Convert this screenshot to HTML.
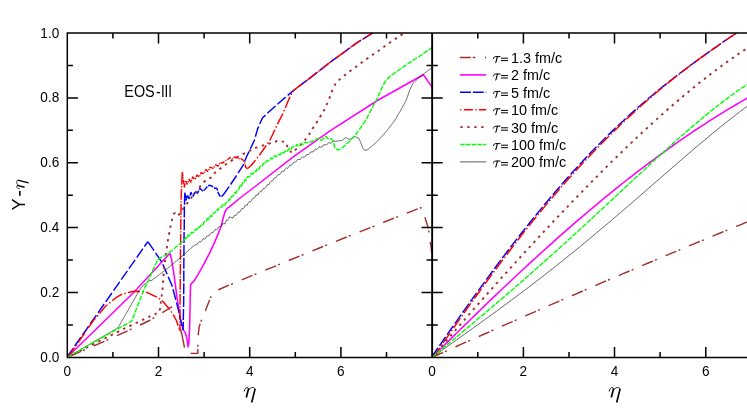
<!DOCTYPE html>
<html><head><meta charset="utf-8"><title>plot</title>
<style>
html,body{margin:0;padding:0;background:#fff;}
body{width:747px;height:416px;overflow:hidden;font-family:"Liberation Sans",sans-serif;}
svg{display:block;will-change:transform}
text{font-family:"Liberation Sans",sans-serif;fill:#000}
.it{font-family:"Liberation Serif",serif;font-style:italic}
</style></head><body>
<svg width="747" height="416" viewBox="0 0 747 416">
<rect width="747" height="416" fill="#fff"/>
<defs>
<clipPath id="cl"><rect x="67.3" y="33.1" width="364.8" height="324.3"/></clipPath>
<clipPath id="cr"><rect x="432.1" y="33.1" width="315" height="324.3"/></clipPath>
</defs>

<g fill="none" stroke-linejoin="round" clip-path="url(#cl)">
<path d="M70.4 356.0L81.0 351.4M83.1 350.5L85.0 349.7M93.7 345.9L104.4 341.3M106.5 340.3L108.3 339.5M117.0 335.7L127.6 330.8M129.7 329.8L131.5 329.0M140.1 325.0L149.5 320.5L150.5 319.9M152.5 318.7L154.2 317.6M162.3 312.6L172.2 306.5M180.3 329.0L181.6 333.2L184.5 347.6M190.6 353.4L197.8 353.4L197.8 349.0M197.8 346.7L197.8 346.2L197.9 344.7M198.2 335.2L198.2 334.6L199.2 326.7L200.2 323.8M200.9 321.6L201.1 320.9L201.6 319.7M205.3 310.9L205.4 310.8L209.0 301.4L209.5 300.1M210.4 298.0L211.2 296.2M218.4 290.0L219.0 289.5L228.9 285.2M231.1 284.3L232.9 283.5M241.7 279.8L252.4 275.4M254.6 274.5L256.4 273.8M265.2 270.2L276.0 265.8M278.1 264.9L280.0 264.1M288.8 260.5L299.5 256.1M301.7 255.3L303.5 254.5M312.4 250.9L323.1 246.5M325.2 245.6L327.1 244.9M335.9 241.3L346.7 237.0M348.8 236.1L350.7 235.4M359.6 231.9L370.4 227.6M372.5 226.8L374.4 226.0M383.2 222.5L394.0 218.2M396.2 217.4L398.0 216.7M406.9 213.1L417.7 208.9M419.8 208.0L420.9 207.6L421.2 208.4M424.9 217.2L428.3 228.2L428.3 228.3M428.6 230.5L428.9 232.5M430.2 242.0L431.2 247.4L431.7 253.5M431.9 255.8L432.1 257.8" stroke="#a52a2a" stroke-width="1.4"/>
<path d="M67.3 357.3L134.4 291.7L169.9 253.2L171.5 259.0L173.6 271.9L177.0 297.2L180.4 319.0L183.1 329.6L185.2 332.5L187.1 338.9L188.1 346.9L188.8 343.3L189.6 328.8L190.2 300.0L190.5 286.0L190.9 284.0L193.7 281.4L195.5 278.6L198.1 274.4L204.1 263.6L210.1 252.1L216.1 238.9L221.3 226.0L223.2 218.0L224.9 212.0L226.8 208.7L229.7 206.7L239.4 198.5L255.8 186.0L293.9 156.4L330.0 130.8L378.2 100.0L423.4 74.7L431.2 85.9L433.0 88.5" stroke="#ff00ff" stroke-width="1.55"/>
<path d="M67.0 357.1L73.2 348.3M74.7 346.0L80.9 337.2M82.5 335.0L88.7 326.1M90.2 323.9L96.4 315.1M98.0 312.9L104.2 304.0M105.7 301.8L111.9 293.0M113.5 290.7L119.7 281.9M121.2 279.7L127.4 270.8M128.9 268.6L135.1 259.8M136.7 257.6L142.9 248.7M144.4 246.5L147.8 241.7M148.0 241.8L154.1 250.7M155.6 252.9L161.6 261.9M162.9 264.3L167.1 274.2M168.2 276.7L171.9 285.4L172.3 286.7M173.0 289.3L175.8 299.7M176.5 302.3L179.1 312.8M179.7 315.5L181.8 326.0M182.4 328.7L182.4 328.8L183.0 330.0M184.7 193.7L184.5 204.7M184.4 206.5L184.4 207.0L184.3 217.5M184.3 219.3L184.2 230.3M184.1 232.1L184.0 243.1M184.0 244.9L183.9 255.0L183.9 255.9M183.9 257.7L183.8 268.7M183.8 270.5L183.8 281.5M183.8 283.3L183.7 294.3M183.7 296.1L183.7 300.0L183.6 307.1M183.5 308.9L183.3 319.9M183.3 321.7L183.1 330.0M184.9 192.5L185.8 197.9M185.9 199.0L186.1 200.0L187.2 195.6M187.5 195.4L189.1 198.6L189.6 196.7M190.0 195.7L190.9 192.5L192.1 194.3M192.7 195.2L193.3 196.1L194.9 191.9M195.4 191.6L197.5 193.1L198.8 190.5M199.3 189.5L199.9 188.3L202.9 191.2M203.7 190.6L205.4 188.9L207.3 186.5M208.1 185.8L210.2 185.3L212.6 186.5L213.1 186.9M214.0 187.6L215.0 188.3L216.8 188.3L217.6 190.6M217.9 191.7L218.6 193.7L220.3 196.6M221.3 196.3L222.8 195.5M222.8 195.5L229.1 186.7M230.6 184.5L236.6 175.5M238.1 173.2L243.3 164.8L243.6 164.0M244.6 161.5L246.3 157.3L249.0 151.6M250.2 149.2L254.5 140.0L254.7 139.4M255.4 136.8L257.6 128.9L258.7 126.5M259.7 124.0L262.4 118.0L265.5 115.1M267.4 113.3L269.0 111.8L275.5 106.0M277.5 104.2L282.0 100.2L285.6 97.1M287.7 95.4L294.1 90.0L296.0 88.5M298.2 86.9L306.8 80.4M308.9 78.8L317.5 72.2M319.6 70.5L320.0 70.2L328.1 63.9M330.3 62.2L332.0 60.9L339.0 55.9M341.2 54.3L344.1 52.2L349.9 47.9M352.1 46.3L356.1 43.3L361.0 40.2M363.3 38.8L372.4 33.1L372.4 33.1M374.7 31.6L383.9 25.9" stroke="#0000ff" stroke-width="1.45"/>
<path d="M67.8 357.6L74.6 347.7M75.9 345.8L76.8 344.6M78.1 342.7L84.9 332.8M86.2 330.9L87.0 329.7M88.3 327.8L93.5 320.3L95.5 318.2M97.1 316.5L98.0 315.3M99.5 313.6L105.2 306.5L107.5 304.7M109.2 303.2L110.4 302.3M112.2 300.8L116.7 297.2L121.7 294.4L122.2 294.3M124.4 293.7L125.8 293.3M128.0 292.6L131.1 291.8L137.2 291.2L139.9 291.5M142.2 291.8L143.6 292.0M145.9 292.3L146.8 292.4L156.9 297.1M158.8 298.3L160.0 299.2M161.9 300.6L162.5 301.0L169.8 309.5M171.1 311.4L171.9 312.7M173.1 314.6L173.3 314.9L176.4 320.5L178.1 325.5M178.9 327.7L179.3 328.8L179.4 329.1M182.2 172.0L182.2 172.6M182.1 174.0L181.7 184.8M181.6 186.2L181.6 187.6M181.5 189.0L181.1 199.8M181.1 201.2L181.1 202.6M181.1 204.0L180.9 214.8M180.9 216.2L180.9 217.6M180.9 219.0L180.7 229.8M180.7 231.2L180.7 232.6M180.7 234.0L180.6 244.8M180.5 246.2L180.5 247.6M180.5 249.0L180.5 250.0L180.4 259.8M180.4 261.2L180.4 262.6M180.4 264.0L180.3 274.8M180.3 276.2L180.3 277.6M180.3 279.0L180.2 289.8M180.2 291.2L180.2 292.6M180.1 294.0L180.1 300.0L180.1 304.8M180.1 306.2L180.1 307.6M180.0 309.0L180.0 319.8M180.0 321.2L180.0 322.6M179.9 324.0L179.9 331.0M182.2 172.0L182.9 176.5M183.0 177.5L183.1 178.0L183.2 178.7M183.3 179.8L183.9 184.3M184.0 185.4L184.2 186.6M184.3 187.7L184.3 187.7L185.0 183.3M185.2 182.2L185.4 181.0M185.8 181.0L187.3 184.1L187.7 183.1M188.0 182.1L188.5 181.0M188.9 179.9L189.1 179.3L190.9 182.3L191.0 182.0M191.3 181.0L191.7 179.8M192.1 178.8L192.7 176.9L194.5 178.7M195.2 179.1L195.7 178.0M196.1 177.0L196.9 175.1L198.9 176.6M199.5 176.4L200.0 175.3M200.4 174.3L201.1 172.7L203.6 173.9L203.6 173.9M204.1 172.9L204.7 171.9M205.3 170.9L206.0 169.6L207.8 171.4L208.0 171.0M208.6 170.1L209.2 169.0M209.7 168.1L210.2 167.2L213.2 168.4L213.4 168.2M214.0 167.3L214.6 166.3M215.2 165.3L215.6 164.8L218.0 166.0L218.6 165.0M219.3 164.1L219.9 163.1M220.6 162.5L222.8 163.0L224.4 161.4M225.2 160.6L225.2 160.6L226.3 160.1M227.3 159.7L230.0 157.5L230.8 158.1M231.7 158.8L232.0 159.0L232.7 158.5M233.6 157.9L234.8 157.0L237.4 158.4M238.5 158.4L239.7 158.4M240.7 158.4L243.0 160.0L243.9 161.5M244.5 162.4L244.5 162.4L244.8 163.6M245.1 164.6L245.7 167.2L247.0 168.5M247.3 168.8L251.2 165.5L255.5 160.1M257.0 158.3L257.9 157.2M259.3 155.3L266.2 145.5M267.5 143.6L268.3 142.4M269.7 140.5L270.0 140.0L274.9 129.7M275.9 127.6L276.5 126.3M277.5 124.2L282.9 113.5L282.9 113.5M283.8 111.4L284.4 110.0M285.3 107.9L288.7 99.6L290.0 96.8M291.0 94.8L291.7 93.4M293.0 91.5L294.1 90.0L302.2 83.9M304.0 82.5L305.2 81.6M307.0 80.2L307.1 80.2L316.5 72.9M318.3 71.5L319.5 70.6M321.3 69.2L330.8 61.8M332.7 60.4L333.9 59.5M335.8 58.2L344.1 52.2L345.5 51.2M347.3 49.8L348.5 48.9M350.4 47.5L356.1 43.3L360.2 40.7M362.2 39.5L363.5 38.7M365.4 37.5L372.4 33.1L375.6 31.1M377.5 29.9L378.8 29.1M380.7 27.9L385.0 25.2" stroke="#ff0000" stroke-width="1.45"/>
<path d="M67.3 357.3L69.4 356.2M73.5 354.2L75.6 353.1M79.7 351.0L81.9 350.0M85.9 347.9L88.1 346.8M92.1 344.8L94.3 343.7M98.3 341.7L100.5 340.6M104.5 338.5L106.7 337.4M110.7 335.4L112.9 334.3M116.9 332.3L119.1 331.2M123.1 329.1L124.4 328.5L125.3 328.1M129.4 326.1L131.6 325.1M135.7 323.2L137.9 322.1M142.0 320.2L144.2 319.2M148.3 317.2L150.4 316.2M154.6 314.3L156.7 313.3M159.8 310.5L160.1 308.1M160.6 303.6L161.0 301.3M161.6 296.7L161.9 294.4M162.5 289.9L162.7 287.5M163.0 282.9L163.2 280.5M163.5 276.0L163.7 273.6M164.1 269.1L164.1 268.6L164.3 266.7M164.9 262.2L165.2 259.8M165.7 255.3L166.0 253.2L166.0 252.9M166.7 248.4L167.1 246.0M167.7 241.5L168.0 239.7L168.1 239.1M168.9 234.7L169.4 232.3M170.2 227.8L170.7 225.5M171.7 221.1L172.3 218.7M173.5 214.3L173.6 213.8L175.2 213.2L175.3 213.3M178.3 215.3L179.8 213.4M182.5 209.8L183.9 207.8M186.6 204.1L188.0 202.2M190.7 198.5L192.2 196.7M195.1 193.1L195.1 193.1L196.5 191.2M199.2 187.6L200.5 185.9L200.7 185.7M203.7 182.3L204.2 181.7L205.5 180.6M209.2 178.2L211.4 177.5L211.5 177.4M214.2 173.8L215.0 172.7L215.8 172.0M219.4 169.2L220.4 168.4L221.3 167.7M224.9 165.0L225.2 164.8L226.9 163.7M230.7 161.2L232.8 159.9M236.6 157.4L236.7 157.3L238.7 156.3M242.8 154.3L244.9 153.2M249.0 151.2L251.2 150.1M255.2 148.1L256.0 147.7L257.5 147.3M261.8 145.9L264.1 145.2M268.5 143.9L270.8 143.2M275.1 141.9L275.2 141.9L277.3 140.9M281.7 141.4L284.0 141.9M286.7 144.9L287.5 147.1M290.0 150.9L291.5 152.7M294.9 150.3L296.8 148.7M300.0 145.6L301.7 143.9M304.7 140.4L306.1 138.5M308.8 134.8L309.8 133.4L310.1 132.8M312.4 128.9L313.4 127.3L313.7 126.9M316.2 123.1L317.0 121.9L317.5 121.1M319.8 117.2L320.6 115.9L321.1 115.1M323.4 111.2L324.2 109.9L324.6 109.1M326.4 105.0L327.2 103.3L327.4 102.8M329.2 98.6L329.9 97.0L330.1 96.4M331.7 92.1L332.3 90.4L332.6 89.9M334.5 85.7L335.2 84.3L335.7 83.7M338.8 80.3L339.8 79.2L340.5 78.7M344.0 75.8L345.2 74.9L345.9 74.3M349.5 71.5L350.6 70.7L351.4 70.1M355.2 67.5L356.4 66.6L357.1 66.1M360.7 63.3L362.0 62.3L362.6 61.9M366.3 59.2L367.7 58.2L368.3 57.8M372.0 55.2L373.5 54.2L374.0 53.9M377.8 51.3L378.9 50.6L379.7 50.0M383.4 47.2L384.7 46.2L385.3 45.8M389.0 43.2L390.4 42.2L391.0 41.8M394.8 39.3L396.8 37.9M400.6 35.4L402.6 34.1M406.3 31.5L408.3 30.2M412.1 27.6L414.1 26.3" stroke="#a52a2a" stroke-width="1.9"/>
<path d="M67.3 357.3L68.2 356.8L69.1 356.3L69.9 355.8L70.8 355.3L71.7 354.7L72.6 354.2L73.4 353.7L74.3 353.2L75.2 352.7L76.1 352.2L76.9 351.7L77.8 351.2L78.7 350.7L79.6 350.2L80.4 349.6L81.3 349.1L82.2 348.6L83.1 348.1L83.9 347.6L84.8 347.1L85.7 346.6L86.6 346.1L87.4 345.6L88.3 345.1L89.2 344.5L90.1 344.0L90.9 343.5L91.8 343.0L92.7 342.5L93.6 342.0L94.5 341.5L95.3 341.0L96.2 340.5L97.1 339.9L98.0 339.4L98.8 338.9L99.7 338.4L100.6 337.9L101.5 337.4L102.3 336.9L103.2 336.4L104.1 335.9L105.0 335.4L105.8 334.8L106.7 334.3L107.6 333.8L108.5 333.3L109.3 332.8L110.2 332.3L111.1 331.8L112.0 331.3L112.8 330.8L113.7 330.3L114.6 329.7L115.5 329.2L116.3 328.7L117.2 328.2L118.1 327.7L118.6 326.8L119.1 325.9L119.6 325.1L120.1 324.2L120.6 323.3L121.1 322.4L121.6 321.6L122.1 320.7L122.6 319.8L123.1 318.9L123.6 318.0L124.1 317.2L124.6 316.3L125.1 315.4L125.6 314.5L126.1 313.7L126.6 312.8L127.1 311.9L127.6 311.0L128.1 310.1L128.6 309.3L129.1 308.4L129.6 307.5L130.1 306.6L130.6 305.7L131.1 304.9L131.6 304.0L132.1 303.1L132.6 302.2L133.1 301.4L133.6 300.5L134.1 299.6L134.6 298.7L135.1 297.8L135.6 297.0L136.1 296.1L136.6 295.2L137.1 294.3L137.6 293.5L138.1 292.6L138.6 291.7L139.4 290.5L140.2 289.4L140.8 288.6L141.4 287.7L142.1 286.9L142.7 286.0L143.3 285.2L144.1 284.6L145.0 284.0L145.8 283.4L146.6 282.8L147.4 282.2L148.2 281.6L149.1 281.0L149.9 280.4L151.7 280.4L152.5 279.8L153.3 279.2L154.1 278.6L154.9 278.0L155.7 277.4L156.5 276.8L157.3 276.2L158.1 275.6L158.9 274.9L159.7 274.3L160.5 273.7L161.3 273.1L162.1 272.5L162.9 271.9L163.7 271.3L164.5 270.7L165.3 270.1L166.1 269.5L166.9 268.9L167.6 268.2L168.4 267.6L169.2 266.9L170.0 266.3L170.7 265.7L171.5 265.0L172.3 264.4L173.1 263.8L173.8 263.1L174.6 262.5L175.4 261.8L176.1 261.2L176.9 260.6L177.7 259.9L178.5 259.3L179.2 258.6L180.0 258.0L180.8 257.3L181.5 256.7L182.2 256.0L183.0 255.3L183.8 254.7L184.5 254.0L185.2 253.3L186.0 252.7L186.8 252.0L187.5 251.3L188.2 250.6L189.0 250.0L189.8 249.3L190.5 248.6L191.2 248.0L192.0 247.3L192.9 246.7L193.7 246.1L194.6 245.5L195.5 244.9L196.3 244.7L197.2 244.4L198.1 242.8L198.9 242.0L199.8 241.6L200.6 242.1L201.5 240.9L202.4 239.9L203.2 238.6L204.1 239.3L204.9 238.7L205.7 238.3L206.5 236.3L207.2 236.0L208.0 235.7L208.8 236.0L209.6 234.8L210.4 233.5L211.2 232.8L212.0 232.7L212.8 233.0L213.5 231.6L214.3 230.6L215.1 229.3L215.9 230.0L216.7 229.5L217.5 228.9L218.3 227.1L219.0 226.6L219.8 226.6L220.6 226.6L221.4 225.7L222.3 224.1L223.2 223.8L224.0 223.6L224.9 224.0L225.5 222.2L226.2 221.2L226.8 219.9L227.4 220.4L228.0 219.5L228.7 218.6L229.3 216.7L230.6 217.4L231.8 217.7L233.1 217.8L234.0 215.8L234.8 215.5L235.7 215.4L236.5 214.9L237.4 213.2L238.2 212.2L238.9 212.0L239.7 212.2L240.4 210.9L241.2 209.7L241.9 208.4L242.7 209.0L243.4 208.3L244.2 207.7L244.9 205.7L245.7 205.5L246.4 205.0L247.2 205.3L247.9 203.6L248.6 202.5L249.4 201.6L250.1 201.9L250.8 201.5L251.6 200.1L252.3 198.9L253.1 198.1L253.8 198.6L254.5 197.7L255.3 196.8L256.0 195.0L256.8 195.1L257.5 194.7L258.3 194.7L259.0 192.7L259.8 191.9L260.5 191.2L261.3 191.7L262.0 190.8L262.8 189.4L263.5 188.2L264.6 188.4L265.6 187.6L266.3 186.7L267.1 184.8L267.8 184.9L268.6 184.5L269.3 184.3L270.0 182.4L270.8 181.5L271.5 181.0L272.2 181.3L273.0 180.2L273.7 178.7L274.5 177.7L275.2 177.6L276.0 177.7L276.8 176.5L277.6 175.2L278.4 174.2L279.2 174.7L280.0 174.1L280.9 173.3L281.7 171.4L282.5 171.5L283.3 171.1L284.1 171.3L284.9 169.4L285.7 168.6L286.5 167.9L287.4 168.6L288.2 167.5L289.0 166.4L289.8 164.9L290.6 165.2L291.4 165.0L292.3 164.4L293.1 162.8L293.9 162.0L294.8 162.1L295.6 162.1L296.5 161.2L297.4 159.6L298.3 159.4L299.2 159.3L300.0 159.8L300.9 158.3L301.8 157.6L302.7 156.6L303.6 157.4L304.5 156.9L305.3 156.3L306.2 154.8L307.1 154.5L308.0 154.7L308.8 154.5L309.7 153.5L310.6 152.0L311.5 151.9L312.3 151.9L313.2 151.9L314.1 150.2L315.0 149.5L315.8 148.8L316.7 149.6L317.7 148.6L318.6 147.9L319.6 146.5L320.5 147.2L321.5 146.9L322.5 146.7L323.4 144.9L324.4 144.9L325.3 144.7L326.3 145.2L327.3 143.9L328.2 143.1L329.2 142.6L330.1 143.3L331.1 143.1L332.1 142.1L333.0 141.1L334.0 140.9L335.1 141.3L336.2 141.1L337.3 141.0L338.5 140.9L339.6 140.8L340.7 140.6L341.8 140.5L342.8 139.8L343.7 139.1L344.7 138.3L345.6 137.6L346.6 138.1L347.6 138.6L348.5 139.0L349.5 139.5L350.4 139.0L351.4 138.5L352.4 138.1L353.3 137.6L354.2 137.1L355.2 136.6L356.2 137.1L357.1 137.6L358.1 138.0L359.1 138.5L359.5 139.5L359.9 140.4L360.2 141.4L360.6 142.4L361.0 143.3L361.4 144.3L361.8 145.3L362.1 146.3L362.5 147.2L362.9 148.2L363.6 149.0L364.2 149.7L364.9 150.5L365.9 150.2L366.8 149.8L367.8 149.5L368.6 148.8L369.3 148.2L370.1 147.5L370.9 146.9L371.7 146.2L372.4 145.6L373.2 144.9L374.0 144.3L374.8 143.6L375.5 143.0L376.3 142.3L377.0 141.6L377.7 140.8L378.4 140.1L379.1 139.3L379.8 138.6L380.5 137.8L381.2 137.1L381.9 136.3L382.6 135.6L383.3 134.8L384.0 134.1L384.7 133.3L385.3 132.5L386.0 131.7L386.6 130.9L387.3 130.1L387.9 129.3L388.5 128.5L389.2 127.7L389.8 126.8L390.5 126.0L391.1 125.2L391.7 124.4L392.4 123.6L393.0 122.8L393.7 122.0L394.3 121.2L394.8 120.3L395.3 119.4L395.9 118.6L396.4 117.7L396.9 116.8L397.4 115.9L397.9 115.0L398.4 114.1L399.0 113.3L399.5 112.4L400.0 111.5L400.5 110.6L401.0 109.7L401.5 108.8L402.0 107.8L402.5 106.9L403.1 106.0L403.6 105.1L404.1 104.2L404.6 103.2L405.1 102.3L405.6 101.4L406.1 100.5L406.5 99.5L406.8 98.5L407.2 97.5L407.5 96.5L407.9 95.5L408.2 94.4L408.6 93.4L408.9 92.4L409.3 91.4L409.6 90.4L410.0 89.4L410.5 88.4L411.0 87.4L411.5 86.4L412.0 85.4L412.5 84.4L413.0 83.4L413.8 82.6L414.6 81.8L415.4 81.0L416.2 80.2L417.0 79.4L417.8 78.6L418.7 77.9L419.5 77.2L420.4 76.5L421.3 75.8L422.2 75.1L423.0 74.4L423.9 73.7L424.7 73.1L425.5 72.5L426.3 71.9L427.1 71.3L427.9 70.7L428.7 70.1L429.5 69.5L430.3 68.9L431.1 68.3L432.1 67.7L433.0 67.0" stroke="#000000" stroke-width="0.6"/>
<path d="M67.3 357.3L68.2 356.8L69.0 356.3L69.9 355.8L70.8 355.3L71.7 354.8M72.9 354.2L73.4 353.9L74.3 353.4L75.1 352.9L76.0 352.4L76.9 351.9L77.2 351.7M78.4 351.0L78.6 350.9L79.5 350.4L80.4 349.9L81.2 349.4L82.1 348.9L82.8 348.6M84.0 347.9L84.7 347.5L85.6 347.0L86.5 346.5L87.3 346.0L88.2 345.5L88.4 345.4M89.6 344.7L90.0 344.5L90.8 344.0L91.7 343.5L92.6 343.0L93.4 342.5L93.9 342.3M95.2 341.6L95.2 341.6L96.1 341.1L96.9 340.6L97.8 340.1L98.7 339.6L99.5 339.1M100.7 338.4L101.3 338.1L102.2 337.6L103.0 337.1L103.9 336.6L104.8 336.1L105.1 336.0M106.3 335.3L106.5 335.2L107.4 334.7L108.3 334.2L109.1 333.7L110.0 333.2L110.7 332.8M111.9 332.1L112.6 331.7L113.5 331.2L114.4 330.7L115.2 330.2L116.1 329.8L116.2 329.7M117.5 329.0L117.9 328.8L118.7 328.3L119.6 327.8L120.5 327.3L121.3 326.8L121.8 326.5M123.0 325.8L123.1 325.8L124.0 325.3L124.8 324.8L125.7 324.3L126.6 323.9L127.4 323.4M128.6 322.7L129.2 322.4L130.1 321.9L130.9 321.4L131.8 320.9L132.2 319.9L132.3 319.7M132.8 318.3L132.9 318.0L133.3 317.1L133.6 316.1L134.0 315.2L134.4 314.2L134.6 313.7M135.1 312.4L135.1 312.3L135.5 311.4L135.8 310.4L136.2 309.4L136.6 308.5L136.9 307.7M137.4 306.4L137.7 305.6L138.0 304.7L138.4 303.7L138.8 302.8L139.1 301.8L139.2 301.7M139.7 300.4L139.9 299.9L140.2 298.9L140.6 298.0L141.0 297.0L141.3 296.1L141.5 295.8M142.0 294.4L142.1 294.2L142.4 293.2L142.8 292.3L143.2 291.3L143.5 290.4L143.8 289.8M144.3 288.5L144.4 288.5L144.8 287.5L145.3 286.6L145.8 285.7L146.2 284.7L146.6 284.0M147.2 282.8L147.6 281.9L148.1 281.0L148.5 280.0L149.0 279.0L149.3 278.3M149.9 277.0L150.3 276.0L150.7 275.1L151.2 274.1L151.6 273.1L151.9 272.4M152.5 271.1L152.5 271.1L152.9 270.1L153.3 269.2L153.8 268.2L154.2 267.3L154.6 266.6M155.2 265.3L155.5 264.5L156.0 263.6L156.4 262.7L156.8 261.8L157.3 260.8L157.3 260.8M158.0 259.7L158.6 259.2L159.5 258.6L160.4 257.9L161.3 257.3L162.2 256.9M163.5 256.3L164.2 256.0L165.1 255.5L166.1 255.1L167.0 254.3L167.7 253.8M168.8 252.9L168.9 252.8L169.8 252.0L170.6 251.4L171.4 250.7L172.2 250.1L172.6 249.7M173.7 248.8L174.5 248.2L175.3 247.5L176.1 246.9L176.9 246.3L177.6 245.6M178.7 244.8L179.2 244.3L180.0 243.7L180.8 243.0L181.5 242.3L182.2 241.7L182.5 241.5M183.5 240.5L183.8 240.3L184.5 239.6L185.2 238.9L186.0 237.7L186.7 238.6M187.2 237.6L187.5 236.9L188.2 235.7L189.0 234.8L189.8 235.8L190.0 235.4M190.7 234.2L191.2 232.7L192.0 232.4L192.8 232.5L193.6 232.5L193.9 231.6M194.3 230.2L194.4 229.9L195.2 229.8L196.0 230.0L196.8 229.6L197.7 227.8L197.7 227.7M198.5 226.7L199.3 227.8L200.1 226.7L200.9 225.5L201.3 224.7M202.1 224.4L202.5 224.8L203.3 224.4L204.0 221.8L204.8 221.7L204.9 221.7M206.2 221.3L206.4 221.2L207.1 219.1L207.9 218.2L208.7 219.4L208.7 219.2M209.4 218.0L209.4 217.8L210.2 216.5L211.0 215.4L211.8 216.2L212.4 215.5M212.9 214.2L213.3 213.0L214.1 213.1L214.8 212.9L215.6 212.1L215.9 211.1M216.5 209.9L217.1 209.5L217.8 210.5L218.6 208.3L219.0 207.7M219.9 206.9L220.1 206.9L221.1 207.2L222.1 206.5L223.0 204.4L223.3 204.7M224.3 205.5L224.8 205.3L225.6 203.3L226.4 202.4L227.2 202.2L227.4 202.2M228.3 201.4L228.8 200.1L229.5 198.7L230.2 199.8L230.5 199.2M231.1 198.0L231.7 196.3L232.4 196.2L233.2 195.9L233.9 195.0L234.0 194.5M234.5 193.1L234.6 192.7L235.3 192.7L236.0 193.2L236.7 190.8L236.9 190.4M238.0 189.5L238.0 189.5L238.7 189.6L239.4 187.9L240.1 185.8L240.3 186.0M241.0 186.5L241.4 185.9L242.0 184.6L242.6 182.8L243.2 183.1L243.5 183.1M244.1 182.2L244.5 181.1L245.1 179.9L245.7 179.3L246.3 180.2L246.5 179.6M246.8 178.2L246.9 178.0L247.7 176.7L248.5 176.6L249.3 176.8L250.1 175.9L250.2 175.6M250.7 174.3L250.9 173.5L251.8 174.3L252.6 174.0L253.4 173.0L253.8 172.1M254.6 171.1L255.0 171.0L255.8 171.9L256.5 170.0L257.3 169.0L257.3 168.9M258.2 168.3L258.8 169.2L259.5 167.7L260.3 166.2L260.7 165.8M261.8 166.0L262.6 165.7L263.3 163.4L264.1 163.1L264.8 162.9L265.0 163.0M265.8 162.8L266.5 161.1L267.3 160.5L268.2 160.7L269.1 160.9L269.3 160.7M270.0 159.5L270.8 157.9L271.7 158.9L272.6 158.5L273.3 157.9M273.9 156.7L274.3 155.8L275.2 156.5L276.2 156.9L277.1 155.3M278.1 154.4L279.1 154.2L280.0 155.1L281.0 153.3L281.4 152.8M282.3 152.3L283.0 153.1L283.9 152.6L284.9 151.6L285.6 150.3M286.6 150.8L286.7 151.0L287.6 151.1L288.5 149.2L289.4 148.6L290.1 148.5M291.1 149.3L291.2 149.4L292.1 147.3L293.0 146.5L293.9 146.6L294.3 146.8M295.5 146.6L295.9 146.2L296.9 144.4L298.0 145.8L298.6 145.7M299.6 144.9L300.0 144.5L301.0 143.6L302.0 143.9L303.0 144.8L303.3 144.2M303.9 143.0L304.1 142.6L305.1 142.2L306.1 142.9L307.1 142.8L308.1 142.0M309.3 142.0L310.0 142.3L311.0 141.8L311.9 141.3L312.9 140.9L313.8 140.4M315.1 139.8L315.9 139.4L316.9 139.0L317.9 138.6L319.0 138.1L319.5 138.6M320.5 139.6L320.6 139.7L321.4 140.5L322.1 139.8L322.8 139.1L323.5 138.4L324.1 137.9M325.1 136.9L325.7 136.3L326.5 137.1L327.3 137.9L328.1 138.7L328.8 138.7M330.2 138.7L330.5 138.7L331.7 138.7L332.1 139.8L332.6 140.8L333.1 141.8L333.1 142.0M333.6 143.3L333.9 144.0L334.2 145.1L334.6 146.1L334.9 147.2L335.2 148.0M336.2 148.9L336.3 148.9L337.3 149.5L338.3 150.1L339.4 149.5L340.4 148.9L340.5 148.8M341.8 148.1L342.5 147.7L343.3 147.0L344.1 146.2L344.9 145.5L345.6 144.9M346.6 144.0L347.4 143.3L348.2 142.6L349.0 141.8L349.8 141.1L350.3 140.6M351.2 139.5L351.3 139.4L352.1 138.6L352.8 137.8L353.6 137.0L354.3 136.2L354.6 135.8M355.5 134.8L355.8 134.5L356.4 133.7L357.0 132.8L357.6 131.9L358.2 131.1L358.4 130.8M359.3 129.6L359.4 129.4L360.0 128.6L360.6 127.7L361.2 126.8L361.8 126.0L362.1 125.5M362.9 124.4L363.0 124.3L363.6 123.4L364.2 122.6L364.8 121.7L365.4 120.9L365.8 120.3M366.5 119.1L366.9 118.1L367.4 117.2L367.9 116.2L368.4 115.3L368.7 114.6M369.3 113.3L369.8 112.4L370.3 111.5L370.7 110.5L371.2 109.6L371.6 108.9M372.3 107.6L372.7 106.8L373.2 105.8L373.7 104.9L374.2 104.0L374.6 103.2M375.3 102.0L375.8 101.2L376.3 100.2L376.8 99.3L377.3 98.3L377.7 97.6M378.2 96.3L378.6 95.4L379.0 94.4L379.5 93.4L379.9 92.4L380.1 91.7M380.7 90.4L380.7 90.4L381.1 89.4L381.6 88.4L382.1 87.5L382.5 86.5L382.8 85.9M383.5 84.7L383.5 84.6L384.1 83.6L384.7 82.6L385.3 81.6L385.9 80.6L386.1 80.4M387.1 79.4L387.3 79.2L388.0 78.4L388.7 77.7L389.4 77.0L390.1 76.3L390.6 75.9M391.8 75.1L391.8 75.0L392.7 74.4L393.5 73.8L394.4 73.2L395.2 72.5L395.8 72.1M396.9 71.3L397.0 71.3L397.8 70.7L398.7 70.1L399.6 69.5L400.4 68.9L401.0 68.5M402.2 67.7L403.0 67.1L403.9 66.5L404.7 65.9L405.6 65.3L406.3 64.8M407.5 64.0L408.2 63.5L409.1 62.9L409.9 62.4L410.8 61.8L411.6 61.3L411.6 61.3M412.8 60.5L413.3 60.2L414.2 59.6L415.1 59.0L415.9 58.5L416.8 57.9L417.0 57.8M418.2 57.0L418.5 56.8L419.3 56.3L420.2 55.7L421.0 55.1L421.9 54.5L422.3 54.2M423.5 53.4L423.6 53.4L424.4 52.8L425.2 52.2L426.1 51.7L426.9 51.1L427.6 50.6M428.8 49.8L429.4 49.4L430.3 48.8L431.1 48.2L432.1 47.5L432.9 47.0" stroke="#00ff00" stroke-width="1.4"/>
</g>
<g fill="none" stroke-linejoin="round" clip-path="url(#cr)">
<path d="M432.3 357.3L436.3 355.5L440.3 353.7L442.9 352.5M445.0 351.6L446.8 350.8M455.5 346.9L456.3 346.5L460.3 344.7L464.3 342.9L466.1 342.1M468.2 341.2L468.3 341.2L470.0 340.4M478.8 336.5L480.3 335.8L484.3 334.0L488.3 332.3L489.4 331.8M491.5 330.9L492.3 330.5L493.3 330.0M502.0 326.2L504.3 325.2L508.3 323.4L512.3 321.7L512.6 321.5M514.7 320.6L516.3 319.9L516.6 319.8M525.3 315.9L528.3 314.6L532.3 312.9L535.9 311.3M538.0 310.4L539.9 309.6M548.6 305.7L552.3 304.2L556.3 302.4L559.3 301.1M561.4 300.2L563.2 299.4M572.0 295.6L572.3 295.5L576.3 293.8L580.3 292.0L582.6 291.0M584.7 290.1L586.6 289.3M595.4 285.6L596.3 285.1L600.3 283.4L604.3 281.7L606.0 281.0M608.1 280.1L608.3 280.0L610.0 279.3M618.8 275.6L620.3 274.9L624.3 273.2L628.3 271.5L629.4 271.0M631.6 270.1L632.3 269.8L633.4 269.3M642.2 265.6L644.3 264.7L648.3 263.0L652.3 261.3L652.9 261.1M655.0 260.2L656.3 259.7L656.8 259.4M665.6 255.7L668.3 254.6L672.3 252.9L676.3 251.3L676.3 251.3M678.5 250.4L680.3 249.6L680.3 249.6M689.1 245.9L692.3 244.6L696.3 242.9L699.8 241.5M702.0 240.6L703.8 239.8M712.6 236.2L716.3 234.7L720.3 233.0L723.4 231.7M725.5 230.9L727.3 230.1M736.2 226.5L736.3 226.4L740.3 224.8L744.3 223.2L746.9 222.1M749.0 221.2L750.9 220.5" stroke="#a52a2a" stroke-width="1.4"/>
<path d="M432.3 357.3L436.3 353.3L440.3 349.3L444.3 345.3L448.3 341.4L452.3 337.4L456.3 333.5L460.3 329.5L464.3 325.6L468.3 321.7L472.3 317.8L476.3 313.9L480.3 310.0L484.3 306.1L488.3 302.3L492.3 298.4L496.3 294.6L500.3 290.8L504.3 287.0L508.3 283.2L512.3 279.5L516.3 275.7L520.3 272.0L524.3 268.3L528.3 264.6L532.3 260.9L536.3 257.2L540.3 253.6L544.3 250.0L548.3 246.4L552.3 242.8L556.3 239.2L560.3 235.7L564.3 232.2L568.3 228.7L572.3 225.2L576.3 221.7L580.3 218.3L584.3 214.9L588.3 211.5L592.3 208.1L596.3 204.8L600.3 201.4L604.3 198.2L608.3 194.9L612.3 191.6L616.3 188.4L620.3 185.2L624.3 182.0L628.3 178.9L632.3 175.8L636.3 172.7L640.3 169.6L644.3 166.6L648.3 163.5L652.3 160.6L656.3 157.6L660.3 154.7L664.3 151.8L668.3 148.9L672.3 146.0L676.3 143.2L680.3 140.4L684.3 137.7L688.3 134.9L692.3 132.2L696.3 129.5L700.3 126.9L704.3 124.3L708.3 121.7L712.3 119.1L716.3 116.6L720.3 114.1L724.3 111.7L728.3 109.2L732.3 106.8L736.3 104.5L740.3 102.1L744.3 99.8L748.3 97.5L752.3 95.3" stroke="#ff00ff" stroke-width="1.55"/>
<path d="M431.8 356.9L435.8 351.0L437.9 348.0M439.4 345.7L439.8 345.3L443.8 339.5L445.6 336.9M447.1 334.6L447.8 333.7L451.8 328.0L453.3 325.8M454.8 323.6L455.8 322.3L459.8 316.6L461.1 314.7M462.6 312.5L463.8 310.9L467.8 305.3L468.9 303.7M470.4 301.5L471.8 299.7L475.8 294.1L476.7 292.8M478.3 290.6L479.8 288.6L483.8 283.1L484.7 281.8M486.3 279.7L487.8 277.6L491.8 272.2L492.7 271.0M494.3 268.8L495.8 266.8L499.8 261.4L500.7 260.1M502.3 258.0L503.8 256.1L507.8 250.8L508.9 249.4M510.5 247.2L511.7 245.6L515.8 240.4L517.1 238.7M518.8 236.6L519.8 235.3L523.8 230.2L525.5 228.1M527.1 225.9L527.8 225.2L531.8 220.2L533.9 217.5M535.6 215.4L535.8 215.2L539.8 210.4L542.5 207.1M544.2 205.0L547.8 200.7L551.1 196.7M552.9 194.7L555.8 191.3L559.8 186.7L559.9 186.5M561.7 184.5L563.8 182.1L567.8 177.6L568.8 176.4M570.6 174.4L571.8 173.1L575.8 168.7L577.9 166.4M579.7 164.4L579.8 164.4L583.8 160.1L587.1 156.5M589.0 154.5L591.8 151.6L595.8 147.5L596.5 146.8M598.4 144.8L599.8 143.4L603.8 139.4L606.0 137.2M607.9 135.3L611.8 131.6L615.7 127.8M617.7 126.0L619.9 123.9L623.9 120.2L625.6 118.6M627.6 116.8L627.9 116.5L631.9 112.9L635.6 109.6M637.6 107.8L640.0 105.8L644.0 102.3L645.8 100.7M647.9 99.0L648.0 98.8L652.1 95.5L656.1 92.1L656.2 92.1M658.2 90.3L660.1 88.8L664.1 85.6L666.7 83.6M668.8 81.9L672.2 79.2L676.2 76.1L677.3 75.3M679.4 73.6L680.2 73.0L684.2 70.0L688.1 67.1M690.2 65.5L692.3 64.0L696.3 61.1L699.0 59.1M701.1 57.6L704.3 55.3L708.3 52.4L709.9 51.3M712.1 49.7L712.3 49.6L716.3 46.8L720.3 44.0L721.0 43.5M723.2 42.0L724.3 41.2L728.3 38.5L732.1 35.9M734.4 34.4L736.3 33.1L740.3 30.4L743.3 28.4M745.6 26.9L748.3 25.0L752.3 22.4" stroke="#0000ff" stroke-width="1.45"/>
<path d="M432.9 357.8L436.9 351.9L439.7 347.9M441.0 346.0L441.8 344.7M443.1 342.9L444.9 340.4L448.9 334.6L450.0 333.0M451.3 331.1L452.2 329.9M453.5 328.0L456.9 323.2L460.4 318.2M461.7 316.3L462.6 315.1M463.9 313.2L464.9 311.8L468.9 306.2L470.8 303.4M472.2 301.5L472.9 300.6L473.0 300.3M474.4 298.5L476.9 295.0L480.9 289.5L481.4 288.7M482.8 286.9L483.6 285.6M485.0 283.8L488.9 278.5L492.1 274.1M493.5 272.3L494.3 271.1M495.7 269.2L496.9 267.7L500.9 262.3L502.9 259.6M504.3 257.8L504.9 257.0L505.2 256.6M506.6 254.7L508.9 251.7L512.8 246.5L513.9 245.2M515.3 243.4L516.2 242.2M517.6 240.4L520.8 236.2L524.8 231.1L525.0 230.9M526.4 229.1L527.4 227.9M528.8 226.1L528.8 226.1L532.8 221.1L536.3 216.8M537.8 215.0L538.7 213.9M540.2 212.1L540.8 211.3L544.8 206.4L547.8 202.8M549.3 201.1L550.3 199.9M551.8 198.2L552.8 196.9L556.8 192.2L559.6 189.1M561.1 187.3L562.1 186.2M563.6 184.5L564.8 183.0L568.8 178.5L571.5 175.5M573.1 173.8L574.1 172.7M575.6 171.0L576.8 169.6L580.8 165.3L583.8 162.1M585.3 160.4L586.4 159.4M587.9 157.7L588.8 156.7L592.8 152.5L596.2 149.0M597.8 147.4L598.9 146.3M600.5 144.7L600.8 144.3L604.8 140.3L608.8 136.3L608.9 136.1M610.6 134.5L611.7 133.5M613.3 131.8L616.8 128.5L620.7 124.6L621.9 123.5M623.6 121.9L624.7 120.9M626.4 119.3L628.7 117.1L632.7 113.5L635.2 111.2M636.9 109.6L638.0 108.6M639.7 107.1L640.6 106.3L644.6 102.8L648.6 99.3L648.7 99.2M650.5 97.7L651.6 96.7M653.3 95.2L656.5 92.5L660.5 89.2L662.5 87.5M664.3 86.0L664.5 85.9L665.5 85.1M667.2 83.6L668.5 82.6L672.4 79.4L676.4 76.3L676.6 76.1M678.4 74.7L679.6 73.8M681.4 72.4L684.4 70.1L688.3 67.0L691.0 65.1M692.8 63.7L694.0 62.8M695.8 61.4L696.3 61.1L700.3 58.2L704.3 55.3L705.6 54.4M707.4 53.0L708.3 52.4L708.6 52.2M710.5 50.8L712.3 49.6L716.3 46.8L720.3 44.0L720.4 44.0M722.3 42.6L723.5 41.8M725.4 40.5L728.3 38.5L732.3 35.8L735.3 33.7M737.2 32.5L738.5 31.6M740.4 30.3L744.3 27.7L748.3 25.0L750.3 23.7M752.3 22.4L752.3 22.4" stroke="#ff0000" stroke-width="1.45"/>
<path d="M432.3 357.3L433.9 355.5M436.8 352.0L438.3 350.2M441.3 346.7L442.8 344.9M445.8 341.4L447.4 339.6M450.3 336.1L451.9 334.3M454.9 330.9L456.3 329.2L456.4 329.1M459.4 325.6L460.3 324.6L461.0 323.8M464.0 320.4L464.3 320.0L465.5 318.6M468.5 315.1L470.1 313.3M473.1 309.9L474.7 308.1M477.7 304.7L479.3 302.9M482.3 299.5L483.9 297.7M486.9 294.3L488.3 292.7L488.5 292.5M491.5 289.1L492.3 288.2L493.1 287.3M496.2 283.9L496.3 283.7L497.8 282.1M500.8 278.7L502.4 276.9M505.4 273.5L507.1 271.8M510.1 268.4L511.7 266.6M514.8 263.2L516.3 261.6L516.4 261.5M519.5 258.1L520.3 257.2L521.1 256.3M524.2 253.0L524.3 252.8L525.8 251.2M528.9 247.9L530.5 246.1M533.6 242.8L535.2 241.0M538.3 237.7L539.9 235.9M543.0 232.6L544.3 231.2L544.7 230.8M547.8 227.5L548.3 227.0L549.4 225.8M552.5 222.4L554.2 220.7M557.3 217.4L559.0 215.7M562.1 212.4L563.8 210.6M566.9 207.3L568.3 205.9L568.6 205.6M571.7 202.3L572.3 201.7L573.4 200.6M576.5 197.3L578.2 195.6M581.4 192.3L583.1 190.6M586.2 187.4L587.9 185.6M591.1 182.4L592.3 181.2L592.8 180.7M596.0 177.5L596.3 177.2L597.7 175.8M600.9 172.5L602.6 170.8M605.8 167.6L607.5 165.9M610.8 162.7L612.3 161.2L612.5 161.1M615.7 157.9L616.3 157.3L617.4 156.2M620.7 153.0L622.4 151.4M625.7 148.2L627.4 146.5M630.7 143.4L632.3 141.9L632.5 141.7M635.8 138.6L636.3 138.1L637.5 137.0M640.8 133.8L642.6 132.2M645.9 129.1L647.7 127.5M651.0 124.4L652.3 123.3L652.8 122.8M656.2 119.7L656.3 119.6L658.0 118.1M661.4 115.1L663.1 113.5M666.6 110.5L668.3 108.9L668.4 108.9M671.8 105.9L672.3 105.5L673.6 104.3M677.0 101.4L678.9 99.8M682.3 96.9L684.2 95.3M687.7 92.4L688.3 91.9L689.5 90.9M693.0 88.0L694.9 86.5M698.4 83.6L700.3 82.1L700.3 82.1M703.9 79.3L704.3 79.0L705.8 77.8M709.4 75.0L711.3 73.6M714.9 70.8L716.3 69.8L716.8 69.4M720.5 66.7L722.4 65.3M726.1 62.6L728.1 61.2M731.8 58.6L732.3 58.2L733.8 57.2M737.5 54.6L739.5 53.3M743.3 50.8L744.3 50.1L745.3 49.5M749.1 47.0L751.2 45.7" stroke="#a52a2a" stroke-width="1.9"/>
<path d="M432.3 357.3L436.3 354.4L440.3 351.5L444.3 348.7L448.3 345.8L452.3 342.9L456.3 340.1L460.3 337.2L464.3 334.4L468.3 331.5L472.3 328.6L476.3 325.8L480.3 322.9L484.3 320.0L488.3 317.1L492.3 314.2L496.3 311.3L500.3 308.4L504.3 305.4L508.3 302.5L512.3 299.5L516.3 296.5L520.3 293.5L524.3 290.5L528.3 287.5L532.3 284.4L536.3 281.4L540.3 278.3L544.3 275.2L548.3 272.0L552.3 268.9L556.3 265.7L560.3 262.6L564.3 259.4L568.3 256.1L572.3 252.9L576.3 249.7L580.3 246.4L584.3 243.1L588.3 239.8L592.3 236.4L596.3 233.1L600.3 229.7L604.3 226.4L608.3 223.0L612.3 219.6L616.3 216.2L620.3 212.7L624.3 209.3L628.3 205.9L632.3 202.4L636.3 198.9L640.3 195.5L644.3 192.0L648.3 188.5L652.3 185.0L656.3 181.5L660.3 178.1L664.3 174.6L668.3 171.1L672.3 167.6L676.3 164.2L680.3 160.7L684.3 157.3L688.3 153.8L692.3 150.4L696.3 147.0L700.3 143.6L704.3 140.3L708.3 137.0L712.3 133.6L716.3 130.4L720.3 127.1L724.3 123.9L728.3 120.7L732.3 117.6L736.3 114.5L740.3 111.4L744.3 108.4L748.3 105.5L752.3 102.6" stroke="#000000" stroke-width="0.6"/>
<path d="M432.3 357.3L436.1 354.1M437.2 353.2L440.3 350.6L441.0 350.0M442.1 349.0L444.3 347.2L445.9 345.8M447.0 344.9L448.3 343.8L450.8 341.7M451.9 340.8L452.3 340.5L455.7 337.6M456.8 336.7L460.3 333.8L460.6 333.5M461.7 332.6L464.3 330.4L465.5 329.4M466.6 328.5L468.3 327.1L470.4 325.3M471.5 324.4L472.3 323.7L475.3 321.2M476.4 320.2L480.2 317.0M481.3 316.1L484.3 313.6L485.1 312.9M486.2 312.0L488.3 310.2L490.0 308.8M491.1 307.9L492.3 306.8L494.9 304.6M495.9 303.7L496.3 303.4L499.7 300.5M500.8 299.6L504.3 296.6L504.6 296.3M505.7 295.4L508.3 293.1L509.5 292.1M510.5 291.2L512.3 289.7L514.3 288.0M515.4 287.0L516.3 286.2L519.1 283.8M520.2 282.8L520.3 282.8L524.0 279.6M525.0 278.6L528.3 275.8L528.8 275.3M529.8 274.4L532.3 272.3L533.6 271.1M534.6 270.2L536.3 268.7L538.4 266.9M539.4 266.0L540.3 265.2L543.2 262.6M544.2 261.7L544.3 261.6L548.0 258.4M549.0 257.4L552.3 254.5L552.7 254.1M553.8 253.2L556.3 250.9L557.5 249.8M558.5 248.9L560.3 247.3L562.2 245.5M563.3 244.6L564.3 243.7L567.0 241.2M568.0 240.3L568.3 240.0L571.7 236.9M572.7 236.0L576.3 232.7L576.4 232.6M577.5 231.7L580.3 229.1L581.1 228.3M582.2 227.3L584.3 225.4L585.9 224.0M586.9 223.0L588.3 221.7L590.6 219.6M591.6 218.7L592.3 218.0L595.3 215.3M596.3 214.3L596.3 214.3L599.9 210.9M601.0 210.0L604.3 206.9L604.6 206.6M605.7 205.6L608.3 203.1L609.3 202.2M610.3 201.2L612.3 199.4L614.0 197.8M615.0 196.9L616.3 195.7L618.7 193.5M619.7 192.5L620.3 192.0L623.4 189.1M624.4 188.2L628.1 184.7M629.1 183.8L632.3 180.8L632.7 180.4M633.8 179.4L636.3 177.1L637.4 176.0M638.5 175.1L640.3 173.4L642.1 171.7M643.1 170.7L644.3 169.7L646.8 167.3M647.9 166.4L648.3 166.0L651.5 163.0M652.6 162.1L656.2 158.7M657.3 157.7L660.3 155.0L661.0 154.4M662.0 153.4L664.3 151.3L665.7 150.1M666.8 149.1L668.3 147.7L670.5 145.8M671.5 144.8L672.3 144.1L675.2 141.5M676.3 140.6L676.3 140.6L680.0 137.3M681.1 136.3L684.3 133.5L684.8 133.1M685.9 132.1L688.3 130.1L689.7 128.9M690.7 127.9L692.3 126.6L694.5 124.7M695.6 123.8L696.3 123.2L699.4 120.6M700.5 119.7L704.3 116.5L704.4 116.5M705.4 115.6L708.3 113.2L709.3 112.4M710.4 111.5L712.3 110.0L714.3 108.4M715.4 107.5L716.3 106.8L719.3 104.5M720.4 103.6L724.3 100.6L724.4 100.6M725.5 99.7L728.3 97.6L729.5 96.7M730.7 95.9L732.3 94.7L734.7 93.0M735.8 92.1L736.3 91.8L739.9 89.3M741.1 88.5L744.3 86.3L745.2 85.7M746.4 84.9L748.3 83.6L750.6 82.1M751.7 81.4L752.3 81.0" stroke="#00ff00" stroke-width="1.4"/>
</g>
<g fill="none" stroke="#000" stroke-width="1.5">
<path d="M67.3 32.25V358.15M67.3 357.4H747M67.3 33.0H747" stroke-width="1.5"/>
<path d="M432.15 33.0V357.4" stroke-width="1.9"/>
<path d="M112.9 357.4v-5.4M112.9 33.0v5.4M158.5 357.4v-10.4M158.5 33.0v10.4M204.1 357.4v-5.4M204.1 33.0v5.4M249.7 357.4v-10.4M249.7 33.0v10.4M295.3 357.4v-5.4M295.3 33.0v5.4M340.9 357.4v-10.4M340.9 33.0v10.4M386.5 357.4v-5.4M386.5 33.0v5.4M477.8 357.4v-5.4M477.8 33.0v5.4M523.4 357.4v-10.4M523.4 33.0v10.4M569.0 357.4v-5.4M569.0 33.0v5.4M614.5 357.4v-10.4M614.5 33.0v10.4M660.1 357.4v-5.4M660.1 33.0v5.4M705.8 357.4v-10.4M705.8 33.0v10.4M67.3 325.0h5.6M426.54999999999995 325.0h11.2M67.3 292.5h10.6M421.54999999999995 292.5h21.2M67.3 260.1h5.6M426.54999999999995 260.1h11.2M67.3 227.6h10.6M421.54999999999995 227.6h21.2M67.3 195.2h5.6M426.54999999999995 195.2h11.2M67.3 162.8h10.6M421.54999999999995 162.8h21.2M67.3 130.3h5.6M426.54999999999995 130.3h11.2M67.3 97.9h10.6M421.54999999999995 97.9h21.2M67.3 65.4h5.6M426.54999999999995 65.4h11.2"/>
</g>
<text transform="translate(59.3 361.9) scale(0.92 1)" font-size="14.8px" text-anchor="end">0.0</text>
<text transform="translate(59.3 297.0) scale(0.92 1)" font-size="14.8px" text-anchor="end">0.2</text>
<text transform="translate(59.3 232.1) scale(0.92 1)" font-size="14.8px" text-anchor="end">0.4</text>
<text transform="translate(59.3 167.3) scale(0.92 1)" font-size="14.8px" text-anchor="end">0.6</text>
<text transform="translate(59.3 102.4) scale(0.92 1)" font-size="14.8px" text-anchor="end">0.8</text>
<text transform="translate(59.3 37.5) scale(0.92 1)" font-size="14.8px" text-anchor="end">1.0</text>
<text transform="translate(67.3 375.8) scale(0.92 1)" font-size="14.8px" text-anchor="middle">0</text>
<text transform="translate(432.1 375.8) scale(0.92 1)" font-size="14.8px" text-anchor="middle">0</text>
<text transform="translate(158.5 375.8) scale(0.92 1)" font-size="14.8px" text-anchor="middle">2</text>
<text transform="translate(523.4 375.8) scale(0.92 1)" font-size="14.8px" text-anchor="middle">2</text>
<text transform="translate(249.7 375.8) scale(0.92 1)" font-size="14.8px" text-anchor="middle">4</text>
<text transform="translate(614.5 375.8) scale(0.92 1)" font-size="14.8px" text-anchor="middle">4</text>
<text transform="translate(340.9 375.8) scale(0.92 1)" font-size="14.8px" text-anchor="middle">6</text>
<text transform="translate(705.8 375.8) scale(0.92 1)" font-size="14.8px" text-anchor="middle">6</text>
<text transform="translate(124.3 97.0) scale(1 1.1)" font-size="14.4px" text-anchor="start">EOS</text>
<text transform="translate(155.9 97.0) scale(1 1.1)" font-size="14.4px" text-anchor="start">-</text>
<text transform="translate(160.9 97.0) scale(0.93 1.1)" font-size="14.4px" text-anchor="start">III</text>
<g transform="translate(244.1 397.5)" fill="none" stroke="#000" stroke-linecap="butt" stroke-linejoin="round"><path d="M0.1,-6.0C0.7,-8.6 1.7,-10.0 3.0,-10.0C3.9,-10.0 4.45,-9.4 4.3,-8.4M3.9,-6.4C5.0,-8.7 7.0,-10.0 8.7,-10.0C10.1,-10.0 10.95,-9.3 10.8,-8.0" stroke-width="0.9"/><path d="M4.4,-9.0L4.2,-7.8L2.2,0M10.9,-8.7L10.7,-7.4L7.6,5.0" stroke-width="1.65"/></g>
<g transform="translate(609.1 397.5)" fill="none" stroke="#000" stroke-linecap="butt" stroke-linejoin="round"><path d="M0.1,-6.0C0.7,-8.6 1.7,-10.0 3.0,-10.0C3.9,-10.0 4.45,-9.4 4.3,-8.4M3.9,-6.4C5.0,-8.7 7.0,-10.0 8.7,-10.0C10.1,-10.0 10.95,-9.3 10.8,-8.0" stroke-width="0.9"/><path d="M4.4,-9.0L4.2,-7.8L2.2,0M10.9,-8.7L10.7,-7.4L7.6,5.0" stroke-width="1.65"/></g>
<text transform="translate(24.6 210.6) rotate(-90)" font-size="18.1px">Y</text>
<path d="M19.8 191V195.8" stroke="#000" stroke-width="1.6" fill="none"/>
<g transform="translate(24.6 189.0) rotate(-90) scale(0.8)" fill="none" stroke="#000" stroke-linecap="butt" stroke-linejoin="round"><path d="M0.1,-6.0C0.7,-8.6 1.7,-10.0 3.0,-10.0C3.9,-10.0 4.45,-9.4 4.3,-8.4M3.9,-6.4C5.0,-8.7 7.0,-10.0 8.7,-10.0C10.1,-10.0 10.95,-9.3 10.8,-8.0" stroke-width="0.9"/><path d="M4.4,-9.0L4.2,-7.8L2.2,0M10.9,-8.7L10.7,-7.4L7.6,5.0" stroke-width="1.65"/></g>
<g font-size="14.4px">
<path d="M459.9 57.5H486.2" fill="none" stroke="#a52a2a" stroke-width="1.5" stroke-dasharray="10.9 2 2.5 9.7"/>
<g transform="translate(493.2 62.9)" fill="none" stroke="#000" stroke-linecap="round"><path d="M0.2,-4.3C0.6,-5.6 1.3,-6.3 2.6,-6.3L6.9,-6.3" stroke-width="1.0"/><path d="M4.2,-6.2L2.9,-1.2C2.8,-0.6 2.6,-0.3 2.5,-0.3" stroke-width="1.1"/></g>
<path d="M501 58.2h7M501 60.6h7" stroke="#000" stroke-width="1"/>
<text x="511.0" y="62.9">1.3 fm/c</text>
<path d="M460.0 74.9H486.2" fill="none" stroke="#ff00ff" stroke-width="1.6"/>
<g transform="translate(493.2 80.3)" fill="none" stroke="#000" stroke-linecap="round"><path d="M0.2,-4.3C0.6,-5.6 1.3,-6.3 2.6,-6.3L6.9,-6.3" stroke-width="1.0"/><path d="M4.2,-6.2L2.9,-1.2C2.8,-0.6 2.6,-0.3 2.5,-0.3" stroke-width="1.1"/></g>
<path d="M501 75.6h7M501 78.0h7" stroke="#000" stroke-width="1"/>
<text x="511.0" y="80.3">2 fm/c</text>
<path d="M460.1 92.3H486.2" fill="none" stroke="#0000ff" stroke-width="1.55" stroke-dasharray="10.75 2.05"/>
<g transform="translate(493.2 97.7)" fill="none" stroke="#000" stroke-linecap="round"><path d="M0.2,-4.3C0.6,-5.6 1.3,-6.3 2.6,-6.3L6.9,-6.3" stroke-width="1.0"/><path d="M4.2,-6.2L2.9,-1.2C2.8,-0.6 2.6,-0.3 2.5,-0.3" stroke-width="1.1"/></g>
<path d="M501 93.0h7M501 95.4h7" stroke="#000" stroke-width="1"/>
<text x="511.0" y="97.7">5 fm/c</text>
<path d="M460.2 109.7H486.2" fill="none" stroke="#ff0000" stroke-width="1.55" stroke-dasharray="1.2 2.4 9.1 2.4"/>
<g transform="translate(493.2 115.1)" fill="none" stroke="#000" stroke-linecap="round"><path d="M0.2,-4.3C0.6,-5.6 1.3,-6.3 2.6,-6.3L6.9,-6.3" stroke-width="1.0"/><path d="M4.2,-6.2L2.9,-1.2C2.8,-0.6 2.6,-0.3 2.5,-0.3" stroke-width="1.1"/></g>
<path d="M501 110.4h7M501 112.8h7" stroke="#000" stroke-width="1"/>
<text x="511.0" y="115.1">10 fm/c</text>
<path d="M460.3 127.1H486.2" fill="none" stroke="#a52a2a" stroke-width="1.9" stroke-dasharray="2.4 4.55"/>
<g transform="translate(493.2 132.5)" fill="none" stroke="#000" stroke-linecap="round"><path d="M0.2,-4.3C0.6,-5.6 1.3,-6.3 2.6,-6.3L6.9,-6.3" stroke-width="1.0"/><path d="M4.2,-6.2L2.9,-1.2C2.8,-0.6 2.6,-0.3 2.5,-0.3" stroke-width="1.1"/></g>
<path d="M501 127.8h7M501 130.2h7" stroke="#000" stroke-width="1"/>
<text x="511.0" y="132.5">30 fm/c</text>
<path d="M460.4 144.5H486.2" fill="none" stroke="#00ff00" stroke-width="1.45" stroke-dasharray="4.5 1.15"/>
<g transform="translate(493.2 149.9)" fill="none" stroke="#000" stroke-linecap="round"><path d="M0.2,-4.3C0.6,-5.6 1.3,-6.3 2.6,-6.3L6.9,-6.3" stroke-width="1.0"/><path d="M4.2,-6.2L2.9,-1.2C2.8,-0.6 2.6,-0.3 2.5,-0.3" stroke-width="1.1"/></g>
<path d="M501 145.2h7M501 147.7h7" stroke="#000" stroke-width="1"/>
<text x="511.0" y="149.9">100 fm/c</text>
<path d="M460.0 161.9H486.2" fill="none" stroke="#000000" stroke-width="0.65"/>
<g transform="translate(493.2 167.3)" fill="none" stroke="#000" stroke-linecap="round"><path d="M0.2,-4.3C0.6,-5.6 1.3,-6.3 2.6,-6.3L6.9,-6.3" stroke-width="1.0"/><path d="M4.2,-6.2L2.9,-1.2C2.8,-0.6 2.6,-0.3 2.5,-0.3" stroke-width="1.1"/></g>
<path d="M501 162.6h7M501 165.0h7" stroke="#000" stroke-width="1"/>
<text x="511.0" y="167.3">200 fm/c</text>
</g>
</svg></body></html>
